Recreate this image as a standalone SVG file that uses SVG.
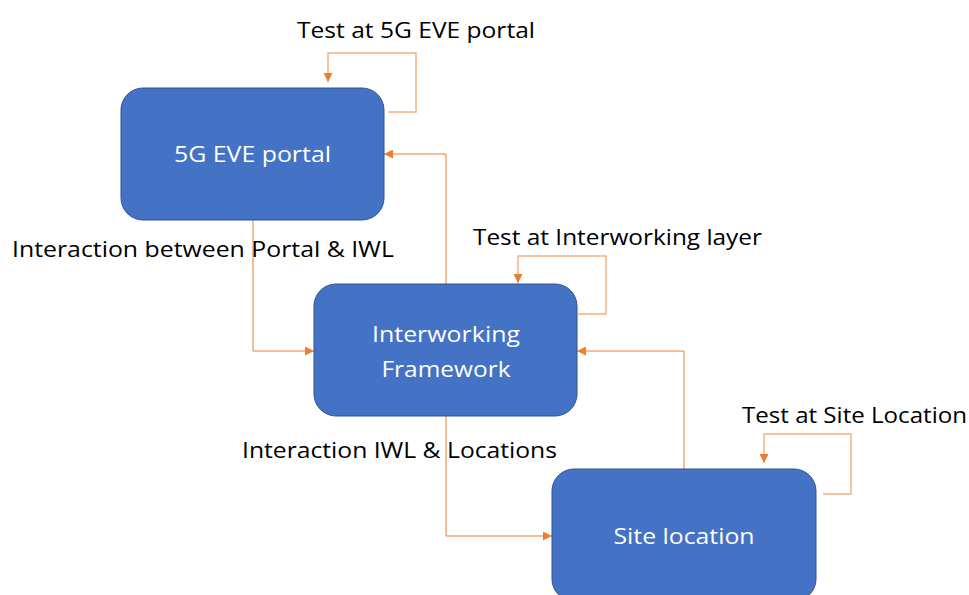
<svg xmlns="http://www.w3.org/2000/svg" width="969" height="595" viewBox="0 0 969 595">
<defs>
<style>
.node rect{fill:#4472C4;stroke:#2F528F;stroke-width:1}
.node text{fill:#FFFFFF;font-family:"Open Sans","Liberation Sans",sans-serif;font-size:22px;text-anchor:middle}
.lbl{fill:#000000;font-family:"Open Sans","Liberation Sans",sans-serif;font-size:22px}
.conn{fill:none;stroke:#ED7D31;stroke-width:1}
.loop{fill:none;stroke:#F4B183;stroke-width:1.5}
</style>
<marker id="arr" viewBox="0 0 10 10" refX="10" refY="5" markerWidth="9" markerHeight="9" markerUnits="userSpaceOnUse" orient="auto">
<path d="M0,0 L10,5 L0,10 Z" fill="#ED7D31"/>
</marker>
</defs>
<rect width="969" height="595" fill="#FFFFFF"/>
<g id="connectors">
<path class="conn" d="M253,220 V351 H314" marker-end="url(#arr)"/>
<path class="conn" d="M446,284 V154 H384" marker-end="url(#arr)"/>
<path class="conn" d="M446,416 V536 H552" marker-end="url(#arr)"/>
<path class="conn" d="M684,469 V351 H577" marker-end="url(#arr)"/>
<path class="loop" d="M388,112 H416 V53 H328 V82" marker-end="url(#arr)"/>
<path class="loop" d="M578,314 H606 V256 H518 V283" marker-end="url(#arr)"/>
<path class="loop" d="M823,494 H851 V434 H764 V463" marker-end="url(#arr)"/>
</g>
<g id="node-portal" class="node">
<rect x="121" y="88" width="263" height="132" rx="22"/>
<text x="252.5" y="162" textLength="157" lengthAdjust="spacingAndGlyphs">5G EVE portal</text>
</g>
<g id="node-interworking" class="node">
<rect x="314" y="284" width="263" height="132" rx="22"/>
<text x="446" y="342" textLength="148" lengthAdjust="spacingAndGlyphs">Interworking</text>
<text x="446" y="377" textLength="129" lengthAdjust="spacingAndGlyphs">Framework</text>
</g>
<g id="node-site" class="node">
<rect x="552" y="469" width="264" height="132" rx="22"/>
<text x="684" y="544" textLength="141" lengthAdjust="spacingAndGlyphs">Site location</text>
</g>
<g id="labels">
<text class="lbl" x="297" y="38" textLength="238" lengthAdjust="spacingAndGlyphs">Test at 5G EVE portal</text>
<text class="lbl" x="12" y="257" textLength="382" lengthAdjust="spacingAndGlyphs">Interaction between Portal &amp; IWL</text>
<text class="lbl" x="473" y="245" textLength="289" lengthAdjust="spacingAndGlyphs">Test at Interworking layer</text>
<text class="lbl" x="242" y="458" textLength="315" lengthAdjust="spacingAndGlyphs">Interaction IWL &amp; Locations</text>
<text class="lbl" x="742" y="423" textLength="225" lengthAdjust="spacingAndGlyphs">Test at Site Location</text>
</g>
</svg>
